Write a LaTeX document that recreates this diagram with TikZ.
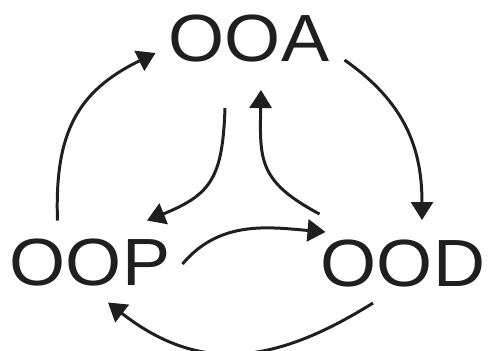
\documentclass[tikz,border=0pt]{standalone}
\usepackage{fontspec}
\newfontfamily\termfont[FakeStretch=1.08]{Liberation Sans}
\usetikzlibrary{arrows.meta}

\begin{document}
\begin{tikzpicture}[
    term/.style={inner sep=0, text=black!88, font=\termfont\fontsize{38}{38}\selectfont},
    flow/.style={line width=1.7pt, draw=black!88, -{Triangle[length=3.6mm, width=4.4mm]}}]
  \useasboundingbox (0,0) rectangle (9.76,7);
  \node[term] (ooa) at (4.98,6.22) {OOA};
  \node[term] (oop) at (1.80,1.75) {OOP};
  \node[term] (ood) at (8.06,1.72) {OOD};
  % outer cycle
  \draw[flow] ([shift={(0.96,0.36)}]oop.north west) to[out=92, in=206, looseness=1.15] ([shift={(-0.26,-0.28)}]ooa.west);
  \draw[flow] ([shift={(0.30,-0.42)}]ooa.east) to[out=-35, in=90, looseness=1.05] ([shift={(0.38,0.40)}]ood.north);
  \draw[flow] ([shift={(-0.60,-0.30)}]ood.south) to[out=-148, in=-38, looseness=1.12] ([shift={(0.36,-0.32)}]oop.south);
  % inner arrows
  \draw[flow] ([shift={(0.24,-0.03)}]oop.east) to[out=50, in=175] ([shift={(0.10,0.64)}]ood.west);
  \draw[flow] ([shift={(-0.48,-0.90)}]ooa.south) to[out=-92, in=22, looseness=1.3] ([shift={(1.14,0.36)}]oop.north);
  \draw[flow] ([shift={(-0.02,0.52)}]ood.north west) to[out=152, in=-91, looseness=1.3] ([shift={(0.24,-0.54)}]ooa.south);
\end{tikzpicture}
\end{document}
